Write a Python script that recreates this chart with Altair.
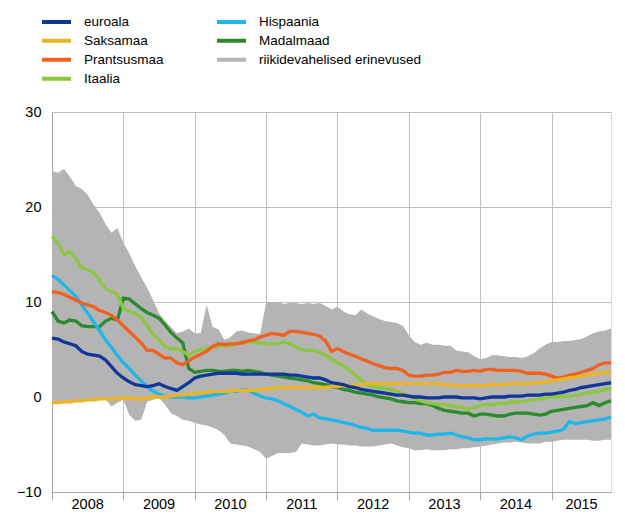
import altair as alt
import pandas as pd

# monthly observations, January 2008 .. November 2015 (95 months)
month_index = list(range(95))

euroala = [
    6.2, 6.1, 5.8, 5.6, 5.4, 4.8, 4.5, 4.4, 4.3, 3.9, 3.2, 2.5,
    2.0, 1.6, 1.3, 1.2, 1.1, 1.2, 1.4, 1.1, 0.9, 0.7, 1.1, 1.5,
    2.0, 2.2, 2.3, 2.4, 2.5, 2.5, 2.5, 2.5, 2.4, 2.4, 2.4, 2.4,
    2.4, 2.4, 2.4, 2.4, 2.3, 2.3, 2.2, 2.1, 2.0, 2.0, 1.8, 1.5,
    1.4, 1.3, 1.1, 1.0, 0.8, 0.7, 0.6, 0.5, 0.4, 0.3, 0.2, 0.2,
    0.1, 0.0, 0.0, -0.1, -0.1, -0.1, 0.0, 0.0, 0.0, -0.1, -0.1, -0.1,
    -0.2, -0.1, 0.0, 0.0, 0.0, 0.1, 0.1, 0.1, 0.2, 0.2, 0.2, 0.3,
    0.3, 0.4, 0.5, 0.7, 0.8, 1.0, 1.1, 1.2, 1.3, 1.4, 1.5,
]
saksamaa = [
    -0.6, -0.6, -0.5, -0.5, -0.4, -0.4, -0.3, -0.3, -0.2, -0.2, -0.2, -0.2,
    -0.1, -0.1, -0.2, -0.2, -0.1, 0.0, 0.0, 0.0, 0.1, 0.2, 0.2, 0.3,
    0.4, 0.4, 0.5, 0.6, 0.6, 0.6, 0.6, 0.7, 0.7, 0.7, 0.7, 0.8,
    0.8, 0.9, 1.0, 1.0, 1.0, 1.0, 1.0, 1.0, 1.0, 1.0, 1.0, 1.1,
    1.1, 1.2, 1.2, 1.3, 1.3, 1.4, 1.4, 1.4, 1.4, 1.4, 1.4, 1.4,
    1.4, 1.4, 1.4, 1.4, 1.4, 1.4, 1.3, 1.3, 1.2, 1.2, 1.2, 1.2,
    1.2, 1.2, 1.3, 1.3, 1.3, 1.4, 1.4, 1.4, 1.4, 1.5, 1.5, 1.6,
    1.7, 1.8, 1.9, 2.0, 2.1, 2.2, 2.3, 2.4, 2.5, 2.6, 2.7,
]
prantsusmaa = [
    11.1, 11.0, 10.8, 10.5, 10.2, 9.9, 9.7, 9.5, 9.1, 8.9, 8.6, 8.1,
    7.5, 6.9, 6.3, 5.7, 4.9, 4.9, 4.5, 4.1, 4.1, 3.6, 3.4, 3.8,
    4.2, 4.5, 4.8, 5.3, 5.6, 5.5, 5.6, 5.6, 5.7, 5.9, 6.0, 6.3,
    6.5, 6.7, 6.6, 6.5, 6.9, 6.9, 6.8, 6.7, 6.6, 6.4, 5.9, 4.8,
    5.1, 4.8, 4.5, 4.3, 4.0, 3.8, 3.5, 3.3, 3.1, 3.0, 3.0, 2.8,
    2.3, 2.2, 2.2, 2.3, 2.3, 2.4, 2.6, 2.6, 2.8, 2.7, 2.7, 2.8,
    2.7, 2.9, 2.9, 2.8, 2.8, 2.8, 2.8, 2.7, 2.5, 2.5, 2.5, 2.4,
    2.2, 2.0, 2.1, 2.3, 2.4, 2.6, 2.8, 3.0, 3.4, 3.6, 3.6,
]
itaalia = [
    16.9, 16.2, 15.0, 15.3, 14.6, 13.6, 13.4, 13.1, 12.3, 11.4, 11.1, 10.8,
    9.3, 9.0, 8.8, 8.4, 7.5, 6.6, 6.0, 5.3, 5.1, 5.1, 4.8, 4.4,
    4.8, 5.0, 5.1, 5.3, 5.3, 5.5, 5.4, 5.6, 5.8, 5.8, 5.8, 5.7,
    5.6, 5.6, 5.6, 5.8, 5.6, 5.3, 5.0, 4.9, 4.9, 4.7, 4.4, 4.0,
    3.6, 3.3, 2.8, 2.3, 1.8, 1.3, 1.1, 1.0, 0.9, 0.8, 0.6, 0.4,
    0.1, -0.2, -0.4, -0.6, -0.7, -0.8, -0.8, -0.9, -1.0, -1.1, -1.3, -1.1,
    -0.9, -0.8, -0.8, -0.7, -0.7, -0.6, -0.5, -0.5, -0.4, -0.3, -0.2, -0.1,
    0.0, 0.0, 0.1, 0.1, 0.2, 0.3, 0.4, 0.5, 0.6, 0.8, 0.9,
]
hispaania = [
    12.8, 12.4, 11.8, 11.2, 10.6, 9.7, 8.8, 7.9, 7.0, 6.0, 5.2, 4.4,
    3.6, 3.0, 2.3, 1.7, 1.1, 0.6, 0.3, 0.1, 0.0, 0.0, 0.0, -0.1,
    -0.1, 0.0, 0.1, 0.2, 0.3, 0.4, 0.6, 0.6, 0.8, 0.7, 0.4, 0.1,
    -0.1, -0.2, -0.4, -0.7, -1.0, -1.3, -1.6, -2.0, -1.8, -2.2, -2.3, -2.4,
    -2.5, -2.7, -2.8, -3.0, -3.2, -3.3, -3.5, -3.5, -3.5, -3.5, -3.5, -3.6,
    -3.7, -3.8, -3.8, -4.0, -4.0, -3.9, -3.9, -3.8, -4.0, -4.2, -4.3, -4.5,
    -4.5, -4.4, -4.4, -4.4, -4.3, -4.2, -4.3, -4.5, -4.1, -3.9, -3.8, -3.8,
    -3.7, -3.6, -3.4, -2.6, -2.8, -2.7, -2.6, -2.5, -2.4, -2.3, -2.1,
]
madalmaad = [
    9.0, 8.0, 7.8, 8.1, 8.0, 7.5, 7.4, 7.4, 7.4, 8.0, 8.3, 8.1,
    10.4, 10.3, 9.8, 9.3, 8.9, 8.6, 8.3, 7.6, 6.8, 6.2, 5.7, 3.0,
    2.6, 2.7, 2.8, 2.8, 2.7, 2.7, 2.8, 2.8, 2.7, 2.8, 2.7, 2.6,
    2.4, 2.3, 2.2, 2.1, 2.0, 1.9, 1.8, 1.7, 1.5, 1.4, 1.3, 1.1,
    1.0, 0.8, 0.7, 0.5, 0.4, 0.3, 0.2, 0.0, -0.1, -0.2, -0.4, -0.5,
    -0.6, -0.6, -0.7, -0.7, -0.9, -1.2, -1.4, -1.5, -1.6, -1.7, -1.7, -2.0,
    -1.8, -1.8, -1.9, -2.0, -2.0, -1.8, -1.7, -1.7, -1.7, -1.8, -1.9, -1.8,
    -1.5, -1.4, -1.3, -1.2, -1.1, -1.0, -0.9, -0.6, -0.9, -0.6, -0.4,
]
band_upper = [
    23.8, 23.6, 24.0, 23.2, 22.2, 21.9, 21.3, 20.2, 19.4, 18.2, 17.3, 17.8,
    16.2, 15.1, 13.8, 12.6, 11.5, 10.2, 8.8, 8.0, 7.4, 6.7, 6.9, 7.2,
    6.7, 6.7, 9.7, 7.4, 7.1, 6.0, 6.3, 6.9, 7.0, 6.8, 6.7, 6.6,
    9.9, 10.0, 10.0, 9.8, 9.9, 9.9, 9.8, 9.9, 9.8, 9.9, 9.6, 9.2,
    9.5, 9.0, 8.7, 8.6, 9.2, 8.8, 8.5, 8.2, 8.0, 7.9, 7.8, 7.5,
    6.5, 5.8, 5.5, 5.7, 5.5, 5.5, 5.4, 5.4, 4.9, 4.8, 4.7, 4.3,
    4.0, 4.1, 4.4, 4.4, 4.3, 4.2, 4.2, 4.1, 4.3, 4.6, 5.1, 5.5,
    5.8, 5.8, 5.9, 5.9, 6.0, 6.1, 6.4, 6.7, 6.9, 7.0, 7.2,
]
band_lower = [
    -0.6, -0.6, -0.5, -0.5, -0.4, -0.4, -0.3, -0.3, -0.2, -0.2, -1.0, -0.6,
    -0.3, -1.9, -2.5, -2.4, -0.5, -0.3, -0.1, -0.8, -1.7, -2.0, -2.4, -2.5,
    -2.7, -2.9, -3.0, -3.2, -3.5, -4.0, -4.9, -5.0, -5.1, -5.2, -5.5, -5.8,
    -6.5, -6.2, -5.9, -5.9, -5.9, -5.8, -4.9, -5.0, -5.1, -5.1, -5.0, -4.9,
    -5.0, -5.0, -5.1, -5.1, -5.2, -5.2, -5.2, -5.1, -5.0, -4.9, -5.1, -5.3,
    -5.4, -5.6, -5.6, -5.5, -5.6, -5.6, -5.6, -5.5, -5.5, -5.4, -5.4, -5.3,
    -5.2, -5.1, -5.0, -4.9, -4.8, -4.8, -4.7, -4.8, -4.9, -4.9, -4.9, -4.7,
    -4.7, -4.6, -4.5, -4.5, -4.5, -4.5, -4.5, -4.6, -4.6, -4.5, -4.5,
]

year_labels = ["2008", "2009", "2010", "2011", "2012", "2013", "2014", "2015"]
year_label_pos = [2008.5, 2009.5, 2010.5, 2011.5, 2012.5, 2013.5, 2014.5, 2015.42]
year_ticks = [2008, 2009, 2010, 2011, 2012, 2013, 2014, 2015]

band_name = "riikidevahelised erinevused"
# legend entries, filled column by column (4 rows, 2 columns)
legend_order = ["euroala", "Saksamaa", "Prantsusmaa", "Itaalia",
                "Hispaania", "Madalmaad", band_name]
legend_colors = ["#10369A", "#EBB425", "#F0601E", "#8DC63F",
                 "#1FB6EA", "#2B8A2B", "#B4B4B4"]

FONT = "Liberation Sans"

t = [2008 + m / 12 for m in month_index]

series = [
    ("Madalmaad", madalmaad),
    ("Hispaania", hispaania),
    ("Itaalia", itaalia),
    ("Prantsusmaa", prantsusmaa),
    ("Saksamaa", saksamaa),
    ("euroala", euroala),
]
rows = []
for name, vals in series:
    for ti, v in zip(t, vals):
        rows.append({"series": name, "t": ti, "value": v})
lines_df = pd.DataFrame(rows)
band_df = pd.DataFrame({"t": t, "lo": band_lower, "hi": band_upper})
labels_df = pd.DataFrame({"label": year_labels, "pos": year_label_pos})

x_scale = alt.Scale(domain=[2008, t[-1]], nice=False, zero=False)
y_scale = alt.Scale(domain=[-10, 30], nice=False)

x_axis = alt.Axis(values=year_ticks, labels=False, ticks=True, tickSize=8,
                  tickColor="#A6A6A6", grid=True, gridColor="#BFBFBF",
                  domainColor="#A6A6A6", title=None)
y_axis = alt.Axis(values=[-10, 0, 10, 20, 30], ticks=False, grid=True,
                  gridColor="#BFBFBF", domainColor="#A6A6A6", labelPadding=11,
                  labelFontSize=14.5, labelFont=FONT, labelColor="#000000",
                  title=None)

band = alt.Chart(band_df).mark_area(color="#B4B4B4", opacity=1).encode(
    x=alt.X("t:Q", scale=x_scale, axis=x_axis),
    y=alt.Y("lo:Q", scale=y_scale, axis=y_axis),
    y2="hi:Q",
)

lines = alt.Chart(lines_df).mark_line(strokeWidth=3.3).encode(
    x=alt.X("t:Q", scale=x_scale),
    y=alt.Y("value:Q", scale=y_scale),
    color=alt.Color(
        "series:N",
        sort=legend_order,
        scale=alt.Scale(domain=legend_order, range=legend_colors),
        legend=alt.Legend(
            title=None, orient="none", legendX=-12, legendY=-99.5,
            columns=2, columnPadding=51, rowPadding=0, clipHeight=18.7,
            symbolType="stroke", symbolSize=841, symbolStrokeWidth=4,
            labelFont=FONT, labelFontSize=13.5, labelColor="#000000",
            labelOffset=11, labelLimit=400,
        ),
    ),
    detail="series:N",
)

year_text = alt.Chart(labels_df).mark_text(
    font=FONT, fontSize=14.5, color="#000000", baseline="middle", dy=13
).encode(
    x=alt.X("pos:Q", scale=x_scale),
    y=alt.Y(datum=-10, scale=y_scale),
    text="label:N",
)

chart = alt.layer(band, lines, year_text).properties(
    width=559, height=380,
    padding={"left": 44, "top": 104, "right": 5, "bottom": 20},
    autosize=alt.AutoSizeParams(type="none"),
).configure_view(stroke="#A6A6A6").configure(background="white")

chart.save("out.html", embed_options={"renderer": "svg", "actions": False})
